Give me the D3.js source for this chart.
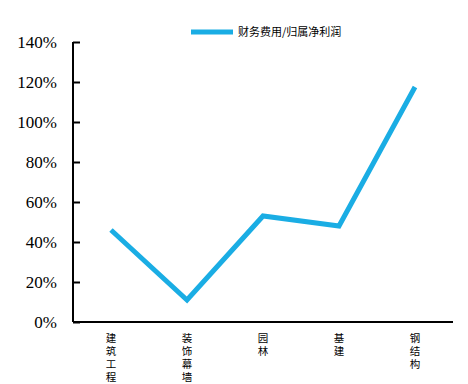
<!DOCTYPE html>
<html>
<head>
<meta charset="utf-8">
<script src="https://cdn.jsdelivr.net/npm/d3@7"></script>
<style>
  body { margin: 0; background: #fff; }
  .ytick { font-family: "Liberation Serif", "Times New Roman", Times, serif; font-size: 17px; }
  .cjk { font-family: "Noto Sans CJK SC", sans-serif; }
</style>
</head>
<body>
<div id="chart"></div>
<script>
// data
const categories = ["建筑工程", "装饰幕墙", "园林", "基建", "钢结构"];
const ratioValues = [0.46, 0.11, 0.53, 0.48, 1.175];
const yTicks = [0, 0.2, 0.4, 0.6, 0.8, 1.0, 1.2, 1.4];
const seriesName = "财务费用/归属净利润";

const width = 468, height = 384;
const margin = {top: 42, right: 15, bottom: 62, left: 73};

const svg = d3.select("#chart").append("svg")
    .attr("width", width)
    .attr("height", height);

const x = d3.scaleBand()
    .domain(categories)
    .range([margin.left, width - margin.right]);

const y = d3.scaleLinear()
    .domain([0, 1.4])
    .range([height - margin.bottom, margin.top]);

// y axis, ticks point inward
const yAxis = svg.append("g")
    .attr("transform", "translate(" + margin.left + ",0)")
    .call(d3.axisRight(y).tickValues(yTicks).tickSize(7).tickFormat(d3.format(".0%")));
yAxis.attr("font-family", null).attr("font-size", null);
yAxis.select(".domain").attr("stroke", "#000").attr("stroke-width", 2).attr("d", "M0," + margin.top + "V" + (height - margin.bottom));
yAxis.selectAll(".tick line").attr("stroke", "#000").attr("stroke-width", 2);
yAxis.selectAll(".tick text")
    .attr("class", "ytick")
    .attr("x", -16)
    .attr("text-anchor", "end")
    .attr("fill", "#000");

// x axis
svg.append("line")
    .attr("x1", margin.left)
    .attr("x2", width - margin.right)
    .attr("y1", y(0))
    .attr("y2", y(0))
    .attr("stroke", "#000")
    .attr("stroke-width", 2);

// category labels, one character per text, stacked vertically
const chars = [];
categories.forEach(c => c.split("").forEach((ch, i) => chars.push({cat: c, ch: ch, i: i})));
svg.append("g").selectAll("text")
    .data(chars)
    .join("text")
    .attr("class", "cjk")
    .attr("x", d => x(d.cat) + x.bandwidth() / 2)
    .attr("y", d => y(0) + 20 + d.i * 13)
    .attr("text-anchor", "middle")
    .style("font-size", "10.5px")
    .attr("fill", "#000")
    .text(d => d.ch);

// line
const line = d3.line()
    .x((d, i) => x(categories[i]) + x.bandwidth() / 2)
    .y(d => y(d));

svg.append("path")
    .datum(ratioValues)
    .attr("fill", "none")
    .attr("stroke", "#1aade4")
    .attr("stroke-width", 5)
    .attr("d", line);

// legend
svg.append("line")
    .attr("x1", 191).attr("x2", 233)
    .attr("y1", 32).attr("y2", 32)
    .attr("stroke", "#1aade4")
    .attr("stroke-width", 5);
svg.append("text")
    .attr("class", "cjk")
    .attr("x", 238)
    .attr("y", 36)
    .style("font-size", "11px")
    .attr("fill", "#000")
    .text(seriesName);
</script>
</body>
</html>
